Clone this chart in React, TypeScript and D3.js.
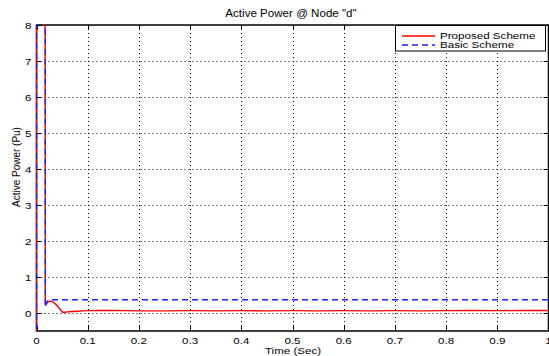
import React from "react";
import * as d3 from "d3";

// Proposed scheme: active power at node "d" (pu) over time (s)
const proposedTime = [
  0, 0.0003, 0.0165, 0.0172, 0.02, 0.023, 0.026, 0.03, 0.033, 0.036, 0.04, 0.044,
  0.048, 0.051, 0.055, 0.06, 0.07, 0.08, 0.09, 0.1, 0.12, 0.15, 0.18, 0.2, 0.25,
  0.3, 0.35, 0.4, 0.45, 0.5, 0.55, 0.6, 0.65, 0.7, 0.75, 0.8, 0.85, 0.9, 0.95, 1.0,
];
const proposedPower = [
  -1, 20, 20, 0.26, 0.27, 0.31, 0.33, 0.32, 0.3, 0.26, 0.21, 0.14,
  0.07, 0.02, 0.02, 0.03, 0.04, 0.05, 0.06, 0.065, 0.07, 0.07, 0.065, 0.06, 0.06,
  0.065, 0.06, 0.065, 0.06, 0.065, 0.06, 0.065, 0.06, 0.065, 0.06, 0.065, 0.07, 0.065, 0.07, 0.07,
];

// Basic scheme
const basicTime = [0, 0.0003, 0.0165, 0.0172, 0.02, 0.024, 0.028, 1.0];
const basicPower = [-1, 20, 20, 0.16, 0.3, 0.36, 0.37, 0.37];

const xTicks = [0, 0.1, 0.2, 0.3, 0.4, 0.5, 0.6, 0.7, 0.8, 0.9, 1];
const yTicks = [0, 1, 2, 3, 4, 5, 6, 7, 8];

const seriesNames = ["Proposed Scheme", "Basic Scheme"];
const titleText = 'Active Power @ Node "d"';
const xLabel = "Time (Sec)";
const yLabel = "Active Power (Pu)";

const W = 549;
const H = 356;
const plot = { left: 36.5, right: 548.5, top: 25, bottom: 331 };
const font = "'Liberation Sans', Arial, Helvetica, sans-serif";
const STRETCH = 1.16;

type Anchor = "start" | "middle" | "end";

function Label(props: {
  x: number;
  y: number;
  anchor?: Anchor;
  size?: number;
  stretch?: number;
  children: React.ReactNode;
}) {
  const { x, y, anchor = "start", size = 10, stretch = STRETCH, children } = props;
  return (
    <text
      transform={`translate(${x},${y}) scale(${stretch},1)`}
      textAnchor={anchor}
      fontSize={size}
      fill="#000"
    >
      {children}
    </text>
  );
}

export default function App() {
  const x = d3.scaleLinear().domain([0, 1]).range([plot.left, plot.right]);
  const y = d3.scaleLinear().domain([-0.5, 8]).range([plot.bottom, plot.top]);

  const line = d3
    .line<[number, number]>()
    .x((d) => x(d[0]))
    .y((d) => y(d[1]));

  const proposed = line(proposedTime.map((t, i) => [t, proposedPower[i]] as [number, number])) || "";
  const basic = line(basicTime.map((t, i) => [t, basicPower[i]] as [number, number])) || "";

  const tickLen = 5;
  const pw = plot.right - plot.left;
  const ph = plot.bottom - plot.top;

  return (
    <svg
      width={W}
      height={H}
      viewBox={`0 0 ${W} ${H}`}
      style={{ position: "absolute", left: 0, top: 0, background: "#fff" }}
      fontFamily={font}
    >
      <defs>
        <clipPath id="plotClip">
          <rect x={plot.left - 1} y={plot.top} width={pw + 1} height={ph} />
        </clipPath>
      </defs>
      <rect x={0} y={0} width={W} height={H} fill="#fff" />

      {/* grid */}
      <g stroke="#000" strokeWidth={1} strokeDasharray="1,3">
        {xTicks.slice(1, -1).map((t) => (
          <line key={"gx" + t} x1={Math.round(x(t)) + 0.5} x2={Math.round(x(t)) + 0.5} y1={plot.top} y2={plot.bottom} />
        ))}
        {yTicks.slice(0, -1).map((t) => (
          <line key={"gy" + t} x1={plot.left} x2={plot.right} y1={Math.round(y(t)) + 0.5} y2={Math.round(y(t)) + 0.5} />
        ))}
      </g>

      {/* tick marks */}
      <g stroke="#000" strokeWidth={1}>
        {xTicks.map((t) => {
          const xx = Math.round(x(t)) + 0.5;
          return (
            <g key={"tx" + t}>
              <line x1={xx} x2={xx} y1={plot.bottom} y2={plot.bottom - tickLen} />
              <line x1={xx} x2={xx} y1={plot.top} y2={plot.top + tickLen} />
            </g>
          );
        })}
        {yTicks.map((t) => {
          const yy = Math.round(y(t)) + 0.5;
          return (
            <g key={"ty" + t}>
              <line x1={plot.left} x2={plot.left + tickLen} y1={yy} y2={yy} />
              <line x1={plot.right} x2={plot.right - tickLen} y1={yy} y2={yy} />
            </g>
          );
        })}
      </g>

      {/* axes box */}
      <rect x={plot.left} y={plot.top} width={pw} height={ph} fill="none" stroke="#000" strokeWidth={1.5} />

      {/* data */}
      <g clipPath="url(#plotClip)" fill="none">
        <path d={proposed} stroke="#ff0000" strokeWidth={1.4} />
        <path d={basic} stroke="#2020ff" strokeWidth={1.4} strokeDasharray="6,4" />
      </g>

      {/* tick labels */}
      {xTicks.map((t) => (
        <Label key={"lx" + t} x={x(t)} y={343.5} anchor="middle" size={9.5} stretch={1.22}>
          {String(t)}
        </Label>
      ))}
      {yTicks.map((t) => (
        <Label key={"ly" + t} x={plot.left - 5} y={y(t) + 3.5} anchor="end" size={9.5} stretch={1.22}>
          {String(t)}
        </Label>
      ))}

      {/* titles */}
      <Label x={291} y={17} anchor="middle">
        {titleText}
      </Label>
      <Label x={293} y={354} anchor="middle" size={9.5} stretch={1.22}>
        {xLabel}
      </Label>
      <text
        transform={`translate(20,167) rotate(-90) scale(1,${STRETCH})`}
        textAnchor="middle"
        fontSize={10}
        fill="#000"
      >
        {yLabel}
      </text>

      {/* legend */}
      <g>
        <rect x={395.5} y={25.5} width={150} height={25.5} fill="#fff" stroke="#000" strokeWidth={1} />
        <line x1={402} x2={435} y1={36} y2={36} stroke="#ff0000" strokeWidth={1.5} />
        <line x1={402} x2={435} y1={45} y2={45} stroke="#2020ff" strokeWidth={1.5} strokeDasharray="6,4" />
        <Label x={440} y={38.8} size={9} stretch={1.29}>
          {seriesNames[0]}
        </Label>
        <Label x={440} y={48.4} size={9} stretch={1.29}>
          {seriesNames[1]}
        </Label>
      </g>
    </svg>
  );
}
